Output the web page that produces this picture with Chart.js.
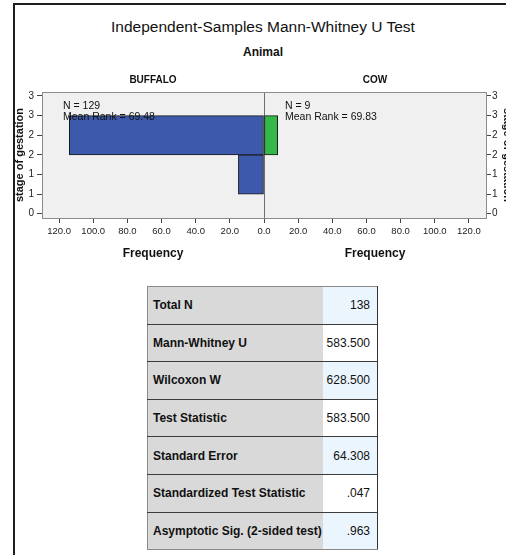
<!DOCTYPE html>
<html>
<head>
<meta charset="utf-8">
<script src="https://cdn.jsdelivr.net/npm/chart.js@4"></script>
<style>
  html, body { margin:0; padding:0; background:#fff; width:506px; height:555px; overflow:hidden; font-family: Arial, "Liberation Sans", sans-serif; }
  #frame { position:absolute; left:13px; top:3px; width:600px; height:600px; border-left:2px solid #1e1e1e; border-top:2px solid #1e1e1e; }
  #title { position:absolute; left:13px; width:500px; top:17px; text-align:center; font-size:15.5px; color:#111; line-height:20px; }
  #sub { position:absolute; left:13px; width:500px; top:44px; text-align:center; font-size:12px; font-weight:bold; color:#111; line-height:16px; }
  #chart { position:absolute; left:0; top:60px; }
  #stats { position:absolute; left:147px; top:286px; width:231px; border-collapse:collapse; border-top:1px solid #8a8a8a; border-left:1px solid #8a8a8a; border-bottom:1px solid #8a8a8a; border-right:1px solid #333; }
  #stats td { height:36.6px; padding:0; border-bottom:1px solid #3c3c3c; font-size:12px; color:#111; }
  #stats tr:last-child td { border-bottom:none; }
  #stats td.l { background:#d9d9d9; font-weight:bold; padding-left:5px; width:170px; }
  #stats td.v { text-align:right; padding-right:7px; }
  #stats tr:nth-child(odd) td.v { background:#ebf5fe; }
  #stats tr:nth-child(even) td.v { background:#ffffff; }
</style>
</head>
<body>
<div id="frame"></div>
<div id="title">Independent-Samples Mann-Whitney U Test</div>
<div id="sub">Animal</div>
<canvas id="chart" width="520" height="205"></canvas>
<table id="stats"></table>
<script>
// ---- data ----
const groups = ['BUFFALO', 'COW'];
const groupN = [129, 9];
const groupMeanRank = ['69.48', '69.83'];
const stageLevels = [0, 1, 2, 3];
const buffaloStages = [1, 2];
const buffaloFreq = [15, 114];
const cowStages = [2];
const cowFreq = [8];
const xTickValues = [-120, -100, -80, -60, -40, -20, 0, 20, 40, 60, 80, 100, 120];
const yTickValues = [0, 0.5, 1, 1.5, 2, 2.5, 3];
const statLabels = ['Total N', 'Mann-Whitney U', 'Wilcoxon W', 'Test Statistic', 'Standard Error', 'Standardized Test Statistic', 'Asymptotic Sig. (2-sided test)'];
const statValues = ['138', '583.500', '628.500', '583.500', '64.308', '.047', '.963'];

// ---- table ----
const tbl = document.getElementById('stats');
statLabels.forEach((lab, i) => {
  const tr = document.createElement('tr');
  const a = document.createElement('td'); a.className = 'l'; a.textContent = lab;
  const b = document.createElement('td'); b.className = 'v'; b.textContent = statValues[i];
  tr.appendChild(a); tr.appendChild(b); tbl.appendChild(tr);
});

// ---- chart ----
const FONT = 'Arial, "Liberation Sans", sans-serif';
const panelPlugin = {
  id: 'panels',
  beforeDraw(chart) {
    const {ctx, chartArea: a} = chart;
    ctx.save();
    ctx.fillStyle = '#f0f0f0';
    ctx.fillRect(a.left, a.top, a.right - a.left, a.bottom - a.top);
    ctx.restore();
  },
  afterDatasetsDraw(chart) {
    const {ctx, chartArea: a} = chart;
    const zero = chart.scales.x.getPixelForValue(0);
    ctx.save();
    ctx.strokeStyle = '#8c8c8c';
    ctx.lineWidth = 1;
    ctx.beginPath();
    ctx.moveTo(a.left, a.top + 0.5); ctx.lineTo(a.right, a.top + 0.5);
    ctx.stroke();
    ctx.fillStyle = '#111';
    ctx.textAlign = 'center';
    ctx.textBaseline = 'middle';
    ctx.font = 'bold 10px ' + FONT;
    const centers = [(a.left + zero) / 2, (zero + a.right) / 2];
    groups.forEach((g, i) => ctx.fillText(g, centers[i], a.top - 11.6));
    ctx.font = 'bold 12px ' + FONT;
    centers.forEach(c => ctx.fillText('Frequency', c, a.bottom + 35.6));
    ctx.font = '10.5px ' + FONT;
    ctx.textAlign = 'left';
    const starts = [a.left + 21, zero + 21];
    groups.forEach((g, i) => {
      ctx.fillText('N = ' + groupN[i], starts[i], a.top + 14.4);
      ctx.fillText('Mean Rank = ' + groupMeanRank[i], starts[i], a.top + 25);
    });
    ctx.restore();
  }
};

const Y_MIN = -0.11, Y_MAX = 3.1;
const yAxisCommon = {
  type: 'linear', min: Y_MIN, max: Y_MAX, offset: false,
  afterBuildTicks: s => { s.ticks = yTickValues.map(v => ({value: v})); },
  ticks: { callback: v => String(Math.round(v)), font: {size: 10, family: FONT}, color: '#222', autoSkip: false },
  grid: { offset: false, drawOnChartArea: false, drawTicks: true, tickLength: 5, tickColor: '#444' },
  border: { color: '#8c8c8c' },
  title: { display: true, text: 'stage of gestation', color: '#111', font: {size: 11, weight: 'bold', family: FONT} }
};

new Chart(document.getElementById('chart'), {
  type: 'bar',
  data: {
    datasets: [
      {
        label: 'BUFFALO',
        data: buffaloStages.map((s, i) => ({y: s, x: -buffaloFreq[i]})),
        backgroundColor: '#3d59ab', borderColor: '#1a1a1a', borderWidth: 1, borderSkipped: false,
        barPercentage: 1, categoryPercentage: 1, grouped: false, yAxisID: 'yb'
      },
      {
        label: 'COW',
        data: cowStages.map((s, i) => ({y: s, x: cowFreq[i]})),
        backgroundColor: '#34b84a', borderColor: '#1a1a1a', borderWidth: 1, borderSkipped: false,
        barPercentage: 1, categoryPercentage: 1, grouped: false, yAxisID: 'yb'
      }
    ]
  },
  options: {
    indexAxis: 'y',
    responsive: false,
    animation: false,
    devicePixelRatio: 1,
    layout: { padding: { top: 32, left: 0, right: 0, bottom: 0 } },
    plugins: { legend: { display: false }, tooltip: { enabled: false } },
    scales: {
      x: {
        type: 'linear', min: -130, max: 130,
        afterBuildTicks: s => { s.ticks = xTickValues.map(v => ({value: v})); },
        ticks: { callback: v => Math.abs(v).toFixed(1), font: {size: 9.5, family: FONT}, color: '#222', maxRotation: 0, autoSkip: false, padding: 3 },
        grid: { drawOnChartArea: true, color: c => (c.tick && c.tick.value === 0) ? '#707070' : 'rgba(0,0,0,0)', tickColor: '#444', tickLength: 5 },
        border: { color: '#8c8c8c' },
        afterFit: s => { s.height = 47; }
      },
      yb: {
        type: 'linear', min: Y_MIN, max: Y_MAX, offset: false, display: false, position: 'left',
        grid: { offset: false },
        afterBuildTicks: s => { s.ticks = stageLevels.map(v => ({value: v})); },
        afterFit: s => { s.width = 0; }
      },
      y: Object.assign({}, yAxisCommon, {
        position: 'left',
        ticks: Object.assign({}, yAxisCommon.ticks, {padding: 3}),
        title: Object.assign({}, yAxisCommon.title, {padding: {top: 13, bottom: 0}}),
        afterFit: s => { s.width = 42; }
      }),
      y2: Object.assign({}, yAxisCommon, {
        position: 'right',
        ticks: Object.assign({}, yAxisCommon.ticks, {padding: 1}),
        title: Object.assign({}, yAxisCommon.title, {padding: {top: 6, bottom: 0}}),
        afterFit: s => { s.width = 34; }
      })
    }
  },
  plugins: [panelPlugin]
});
</script>
</body>
</html>
